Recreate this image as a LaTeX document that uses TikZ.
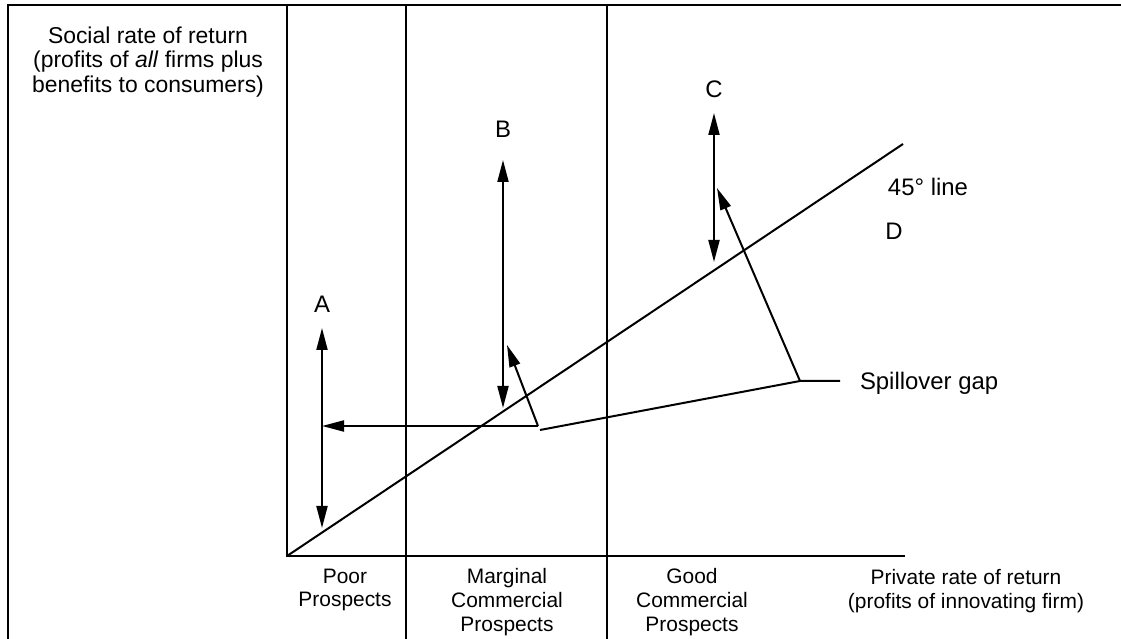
\documentclass[tikz,border=0pt]{standalone}
\usepackage{fontspec}
\setmainfont{Liberation Sans}
\usetikzlibrary{arrows.meta}

\begin{document}
\begin{tikzpicture}[x=0.5bp,y=-0.5bp,line width=1bp,
    tip/.style={-{Triangle[length=11bp,width=5.5bp]}},
    twotip/.style={{Triangle[length=11bp,width=5.5bp]}-{Triangle[length=11bp,width=5.5bp]}},
    lbl/.style={font=\fontsize{10.5}{12}\selectfont,align=center,inner sep=0pt},
    big/.style={lbl,font=\fontsize{12}{12}\selectfont}]
    \useasboundingbox (0,0) rectangle (1121,639);

    % Frame
    \coordinate (fbl) at (8,639);
    \coordinate (ftl) at (8,5);
    \coordinate (ftr) at (1121,5);
    \draw (fbl) -- (ftl) -- (ftr);

    % Axes
    \coordinate (O) at (287,556);
    \coordinate (ytop) at (287,5);
    \coordinate (xend) at (905,556);
    \draw (ytop) -- (O) -- (xend);

    % Region dividers
    \coordinate (d1t) at (406,5);
    \coordinate (d1b) at (406,639);
    \coordinate (d2t) at (607,5);
    \coordinate (d2b) at (607,639);
    \draw (d1t) -- (d1b);
    \draw (d2t) -- (d2b);

    % 45 degree line
    \coordinate (lend) at (903,144);
    \draw (O) -- (lend);

    % Axis labels
    \node[lbl,font=\fontsize{11.5}{12.5}\selectfont] (ylab) at (148,62) {Social rate of return\\(profits of \textit{all} firms plus\\benefits to consumers)};
    \node[lbl] (xlab) at (966,591) {Private rate of return\\(profits of innovating firm)};
    \node[lbl] (poor) at (345,590) {Poor\\Prospects};
    \node[lbl] (marg) at (507,602) {Marginal\\Commercial\\Prospects};
    \node[lbl] (good) at (692,602) {Good\\Commercial\\Prospects};

    % Point labels
    \node[big] (A) at (322,304) {A};
    \node[big] (B) at (503,129) {B};
    \node[big] (C) at (714,89) {C};
    \node[big] (D) at (894,231) {D};
    \node[big] (line45) at (928,187) {45\textdegree{} line};
    \node[big,anchor=west] (gap) at (859,383) {Spillover gap};

    % A
    \coordinate (Atop) at (322,328);
    \coordinate (Abot) at (322,528);
    \coordinate (Amid) at (322,426);
    \draw[twotip] (Atop) -- (Abot);

    % B
    \coordinate (Btop) at (503,160);
    \coordinate (Bbot) at (503,408);
    \coordinate (Bfoot) at (538,426);
    \coordinate (Bhead) at (507,345);
    \draw[twotip] (Btop) -- (Bbot);
    \draw[tip] (Bfoot) -- (Amid);
    \draw[tip] (Bfoot) -- (Bhead);

    % C
    \coordinate (Ctop) at (714,113);
    \coordinate (Cbot) at (714,262);
    \coordinate (Cfoot) at (800,381);
    \coordinate (Chead) at (717,188);
    \draw[twotip] (Ctop) -- (Cbot);
    \draw[tip] (Cfoot) -- (Chead);

    % Spillover gap pointer
    \coordinate (sg) at (540,430);
    \coordinate (sgend) at (840,381);
    \draw (sg) -- (Cfoot) -- (sgend);
\end{tikzpicture}
\end{document}
